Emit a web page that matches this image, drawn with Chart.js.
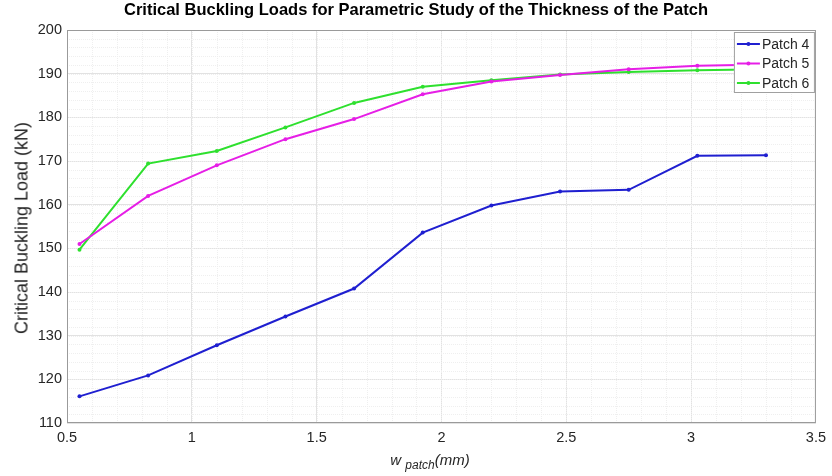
<!DOCTYPE html>
<html>
<head>
<meta charset="utf-8">
<script src="https://cdn.jsdelivr.net/npm/chart.js@4/dist/chart.umd.min.js"></script>
<style>
  body { margin: 0; background: #fff; }
  #wrap { position: relative; width: 832px; height: 476px; font-family: "Liberation Sans", Arial, sans-serif; }
  #title { position: absolute; left: 0; width: 832px; top: 0px; text-align: center; font-weight: bold; font-size: 16.5px; color: #000; }
  #ytitle { position: absolute; left: 22px; top: 228px; transform: translate(-50%, -50%) rotate(-90deg); white-space: nowrap; font-size: 18px; font-weight: normal; color: #262626; }
  #xtitle { position: absolute; left: 430px; top: 451px; transform: translateX(-50%); white-space: nowrap; font-size: 15px; font-style: italic; color: #262626; }
  #xtitle sub { font-size: 12px; }
</style>
</head>
<body>
<div id="wrap">
  <canvas id="bucklingChart" width="832" height="476"></canvas>
  <div id="title">Critical Buckling Loads for Parametric Study of the Thickness of the Patch</div>
  <div id="ytitle">Critical Buckling Load (kN)</div>
  <div id="xtitle">w <sub>patch</sub>(mm)</div>
</div>
<script>
// Patch width values (mm)
const widths = [0.55, 0.825, 1.1, 1.375, 1.65, 1.925, 2.2, 2.475, 2.75, 3.025, 3.3];

// Critical buckling loads (kN)
const patch4 = [116.1, 120.9, 127.8, 134.4, 140.8, 153.6, 159.8, 163.0, 163.4, 171.2, 171.3];
const patch5 = [151.0, 162.0, 169.0, 175.0, 179.6, 185.3, 188.2, 189.7, 191.0, 191.8, 192.1];
const patch6 = [149.7, 169.4, 172.3, 177.7, 183.3, 187.0, 188.5, 189.8, 190.4, 190.8, 191.0];

const seriesNames = ['Patch 4', 'Patch 5', 'Patch 6'];
const xTicks = [0.5, 1, 1.5, 2, 2.5, 3, 3.5];
const yTicks = [110, 120, 130, 140, 150, 160, 170, 180, 190, 200];

const colors = ['#1f1fd0', '#e61ee6', '#2ee02e'];

function toPoints(values) {
    return widths.map((w, i) => ({ x: w, y: values[i] }));
}

// Minor grid, axes box and legend drawn MATLAB-style
const boxPlugin = {
    id: 'boxPlugin',
    beforeDatasetsDraw(chart) {
        const { ctx, chartArea: a, scales } = chart;
        ctx.save();
        ctx.strokeStyle = '#efefef';
        ctx.lineWidth = 1;
        ctx.setLineDash([1, 1]);
        for (let v = 0.6; v < 3.5; v += 0.1) {
            const px = Math.round(scales.x.getPixelForValue(v)) + 0.5;
            ctx.beginPath(); ctx.moveTo(px, a.top); ctx.lineTo(px, a.bottom); ctx.stroke();
        }
        for (let v = 112; v < 200; v += 2) {
            const py = Math.round(scales.y.getPixelForValue(v)) + 0.5;
            ctx.beginPath(); ctx.moveTo(a.left, py); ctx.lineTo(a.right, py); ctx.stroke();
        }
        ctx.restore();
    },
    afterDraw(chart) {
        const { ctx, chartArea: a } = chart;
        ctx.save();
        ctx.strokeStyle = '#9a9a9a';
        ctx.lineWidth = 1;
        ctx.strokeRect(a.left + 0.5, a.top + 0.5, a.width - 1, a.height - 1);

        // legend box
        const bw = 80, bh = 60;
        const bx = a.right - bw - 2, by = a.top + 2;
        ctx.fillStyle = '#fff';
        ctx.fillRect(bx, by, bw, bh);
        ctx.strokeStyle = '#a0a0a0';
        ctx.strokeRect(bx + 0.5, by + 0.5, bw, bh);
        ctx.font = '14px "Liberation Sans", Arial, sans-serif';
        ctx.textBaseline = 'middle';
        chart.data.datasets.forEach((ds, i) => {
            const y = by + 12 + i * 19.5;
            ctx.strokeStyle = ds.borderColor;
            ctx.lineWidth = 2;
            ctx.beginPath(); ctx.moveTo(bx + 3, y); ctx.lineTo(bx + 26, y); ctx.stroke();
            ctx.fillStyle = ds.borderColor;
            ctx.beginPath(); ctx.arc(bx + 14.5, y, 2, 0, Math.PI * 2); ctx.fill();
            ctx.fillStyle = '#262626';
            ctx.fillText(ds.label, bx + 28, y + 1);
        });
        ctx.restore();
    }
};

const ctx = document.getElementById('bucklingChart').getContext('2d');
const chart = new Chart(ctx, {
    type: 'line',
    data: {
        datasets: [patch4, patch5, patch6].map((vals, i) => ({
            label: seriesNames[i],
            data: toPoints(vals),
            borderColor: colors[i],
            backgroundColor: colors[i],
            borderWidth: 2,
            pointRadius: 2,
            pointBorderWidth: 0,
            tension: 0
        }))
    },
    options: {
        responsive: false,
        animation: false,
        layout: { padding: { left: 0, right: 16, top: 30, bottom: 0 } },
        plugins: {
            legend: { display: false },
            title: { display: false },
            tooltip: { enabled: false }
        },
        scales: {
            x: {
                type: 'linear',
                min: 0.5,
                max: 3.5,
                afterFit: (s) => { s.height = 53; },
                afterBuildTicks: (s) => { s.ticks = xTicks.map(v => ({ value: v })); },
                ticks: {
                    color: '#262626',
                    padding: 6,
                    maxRotation: 0,
                    font: { size: 14.5, family: '"Liberation Sans", Arial, sans-serif' },
                    callback: (v) => String(v)
                },
                grid: { color: '#e2e2e2', drawTicks: false },
                border: { display: false }
            },
            y: {
                min: 110,
                max: 200,
                afterFit: (s) => { s.width = 67; },
                afterBuildTicks: (s) => { s.ticks = yTicks.map(v => ({ value: v })); },
                ticks: {
                    color: '#262626',
                    padding: 5,
                    font: { size: 14.5, family: '"Liberation Sans", Arial, sans-serif' }
                },
                grid: { color: '#e2e2e2', drawTicks: false },
                border: { display: false }
            }
        }
    },
    plugins: [boxPlugin]
});
</script>
</body>
</html>
